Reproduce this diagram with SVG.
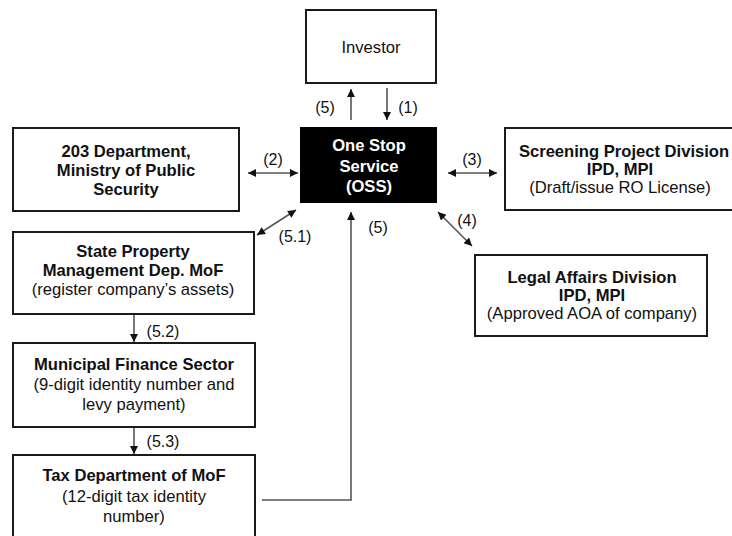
<svg xmlns="http://www.w3.org/2000/svg" width="732" height="536" viewBox="0 0 732 536">
<style>
.box{fill:#fff;stroke:#1a1a1a;stroke-width:2}
.oss{fill:#000;stroke:#000;stroke-width:2}
text{font-family:"Liberation Sans",Arial,sans-serif;font-size:16.6px;fill:#111;text-anchor:middle}
.b{font-weight:bold}
.w{fill:#fff}
.con{fill:none;stroke:#555;stroke-width:1.6}
.lbl{font-size:16px}
</style>
<defs>
<marker id="ah" viewBox="0 0 10 10" refX="10" refY="5" markerWidth="9" markerHeight="8" markerUnits="userSpaceOnUse" orient="auto-start-reverse">
<path d="M0,0 L10,5 L0,10 z" fill="#111"/>
</marker>
</defs>
<rect width="732" height="536" fill="#fff"/>

<g id="connectors">
<line class="con" x1="351" y1="120" x2="351" y2="89" marker-end="url(#ah)"/>
<line class="con" x1="387" y1="88" x2="387" y2="120" marker-end="url(#ah)"/>
<line class="con" x1="248" y1="173" x2="298" y2="173" marker-start="url(#ah)" marker-end="url(#ah)"/>
<line class="con" x1="448" y1="173" x2="497" y2="173" marker-start="url(#ah)" marker-end="url(#ah)"/>
<line class="con" x1="438" y1="212" x2="472" y2="246" marker-start="url(#ah)" marker-end="url(#ah)"/>
<line class="con" x1="296" y1="210" x2="257" y2="235" marker-start="url(#ah)" marker-end="url(#ah)"/>
<line class="con" x1="134" y1="315" x2="134" y2="342" marker-end="url(#ah)"/>
<line class="con" x1="134" y1="428" x2="134" y2="454" marker-end="url(#ah)"/>
<path class="con" d="M262,500 H351 V212" marker-end="url(#ah)"/>
<text class="lbl" x="325" y="113">(5)</text>
<text class="lbl" x="408" y="113">(1)</text>
<text class="lbl" x="273" y="165">(2)</text>
<text class="lbl" x="472" y="165">(3)</text>
<text class="lbl" x="467" y="226">(4)</text>
<text class="lbl" x="295" y="242">(5.1)</text>
<text class="lbl" x="378" y="233">(5)</text>
<text class="lbl" x="163" y="337">(5.2)</text>
<text class="lbl" x="163" y="447">(5.3)</text>
</g>

<g id="investor">
<rect class="box" x="306" y="10" width="130" height="73"/>
<text x="371" y="53">Investor</text>
</g>

<g id="oss">
<rect class="oss" x="301" y="128" width="135" height="74"/>
<text class="b w" x="369" y="151">One Stop</text>
<text class="b w" x="369" y="172">Service</text>
<text class="b w" x="369" y="192">(OSS)</text>
</g>

<g id="dept203">
<rect class="box" x="13" y="128" width="226" height="83"/>
<text class="b" x="126" y="157">203 Department,</text>
<text class="b" x="126" y="176">Ministry of Public</text>
<text class="b" x="126" y="195">Security</text>
</g>

<g id="screening">
<rect class="box" x="505" y="128" width="240" height="82"/>
<text class="b" x="624" y="157">Screening Project Division</text>
<text class="b" x="620" y="175">IPD, MPI</text>
<text x="620" y="193">(Draft/issue RO License)</text>
</g>

<g id="legal">
<rect class="box" x="475" y="255" width="232" height="81"/>
<text class="b" x="592" y="283">Legal Affairs Division</text>
<text class="b" x="592" y="301">IPD, MPI</text>
<text x="592" y="319">(Approved AOA of company)</text>
</g>

<g id="stateproperty">
<rect class="box" x="13" y="232" width="241" height="82"/>
<text class="b" x="133" y="257">State Property</text>
<text class="b" x="133" y="276">Management Dep. MoF</text>
<text x="133" y="295">(register company’s assets)</text>
</g>

<g id="municipal">
<rect class="box" x="13" y="343" width="242" height="84"/>
<text class="b" x="134" y="370">Municipal Finance Sector</text>
<text x="134" y="390">(9-digit identity number and</text>
<text x="134" y="410">levy payment)</text>
</g>

<g id="tax">
<rect class="box" x="13" y="455" width="242" height="90"/>
<text class="b" x="134" y="481">Tax Department of MoF</text>
<text x="134" y="502">(12-digit tax identity</text>
<text x="134" y="522">number)</text>
</g>
</svg>
